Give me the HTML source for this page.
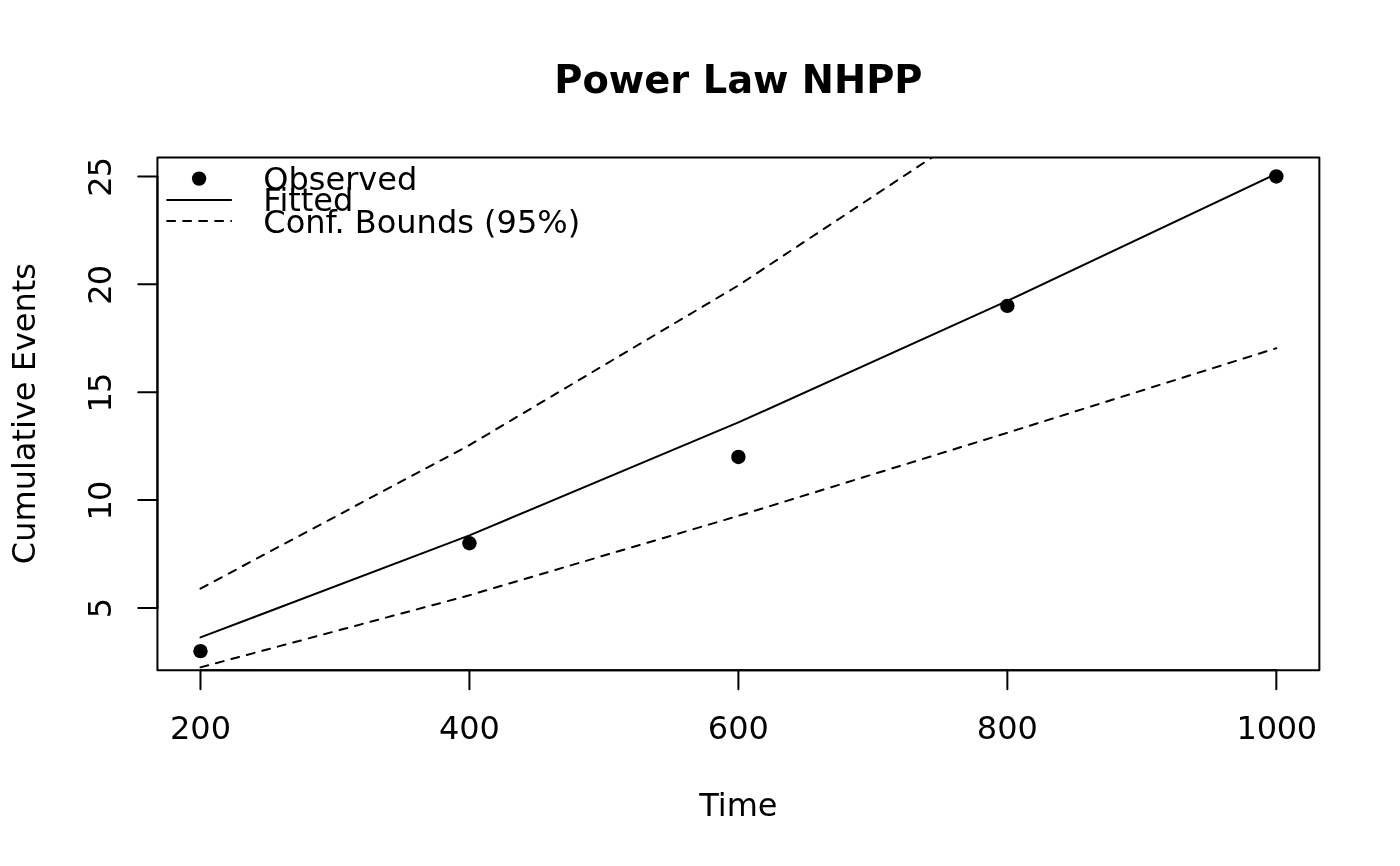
<!DOCTYPE html>
<html lang="en"><head><meta charset="utf-8"><title>Power Law NHPP</title>
<style>html,body{margin:0;padding:0;background:#fff}body{width:1400px;height:866px;overflow:hidden}svg{display:block}text{font-family:"DejaVu Sans","Liberation Sans",sans-serif;fill:#000}</style></head><body>
<svg width="1400" height="866" viewBox="0 0 1400 866">
<rect width="1400" height="866" fill="#fff"/>
<defs><clipPath id="plot"><rect x="157.44" y="157.44" width="1161.92" height="512.72"/></clipPath></defs>
<g clip-path="url(#plot)" fill="none" stroke="#000" stroke-width="2" stroke-linecap="round" stroke-linejoin="round">
<polyline points="200.47,637.40 469.44,535.38 738.40,422.45 1007.36,300.94 1276.33,173.90"/>
<polyline points="200.47,667.35 469.44,595.28 738.40,515.87 1007.36,432.79 1276.33,348.20" stroke-dasharray="8 8"/>
<polyline points="200.47,588.59 469.44,445.09 738.40,285.40 1007.36,107.59" stroke-dasharray="8 8"/>
</g>
<g fill="#000">
<circle cx="200.47" cy="651.17" r="7.2"/>
<circle cx="469.44" cy="543.27" r="7.2"/>
<circle cx="738.40" cy="456.96" r="7.2"/>
<circle cx="1007.36" cy="305.90" r="7.2"/>
<circle cx="1276.33" cy="176.43" r="7.2"/>
</g>
<g fill="none" stroke="#000" stroke-width="2" stroke-linecap="round" stroke-linejoin="round">
<path d="M200.47 670.16H1276.33"/>
<path d="M200.47 670.16v19.2"/>
<path d="M469.44 670.16v19.2"/>
<path d="M738.40 670.16v19.2"/>
<path d="M1007.36 670.16v19.2"/>
<path d="M1276.33 670.16v19.2"/>
<path d="M157.44 608.01V176.43"/>
<path d="M157.44 608.01h-19.2"/>
<path d="M157.44 500.12h-19.2"/>
<path d="M157.44 392.22h-19.2"/>
<path d="M157.44 284.33h-19.2"/>
<path d="M157.44 176.43h-19.2"/>
<rect x="157.44" y="157.44" width="1161.92" height="512.72"/>
</g>
<g font-size="32" text-anchor="middle">
<text x="200.47" y="739">200</text>
<text x="469.44" y="739">400</text>
<text x="738.40" y="739">600</text>
<text x="1007.36" y="739">800</text>
<text x="1276.83" y="739" dx="0 -0.33 -0.33 -0.33">1000</text>
<text transform="translate(111.36 608.01) rotate(-90)">5</text>
<text transform="translate(111.36 500.57) rotate(-90)" dx="0 -0.9">10</text>
<text transform="translate(111.36 392.67) rotate(-90)" dx="0 -0.9">15</text>
<text transform="translate(111.36 284.78) rotate(-90)" dx="0 -0.9">20</text>
<text transform="translate(111.36 176.88) rotate(-90)" dx="0 -0.9">25</text>
<text x="738.40" y="816">Time</text>
<text transform="translate(34.56 413.55) rotate(-90)">Cumulative Events</text>
</g>
<text x="738.40" y="93" font-size="38.4" font-weight="bold" text-anchor="middle">Power Law NHPP</text>
<circle cx="199.1" cy="178.6" r="7.2"/>
<g fill="none" stroke="#000" stroke-width="2" stroke-linecap="round">
<path d="M167.1 199.9H231.1"/>
<path d="M167.1 221H231.15" stroke-dasharray="8 8"/>
</g>
<g font-size="32">
<text x="263.3" y="190">Observed</text>
<text x="263.3" y="211">Fitted</text>
<text x="263.3" y="233">Conf. Bounds (95%)</text>
</g>
</svg></body></html>
